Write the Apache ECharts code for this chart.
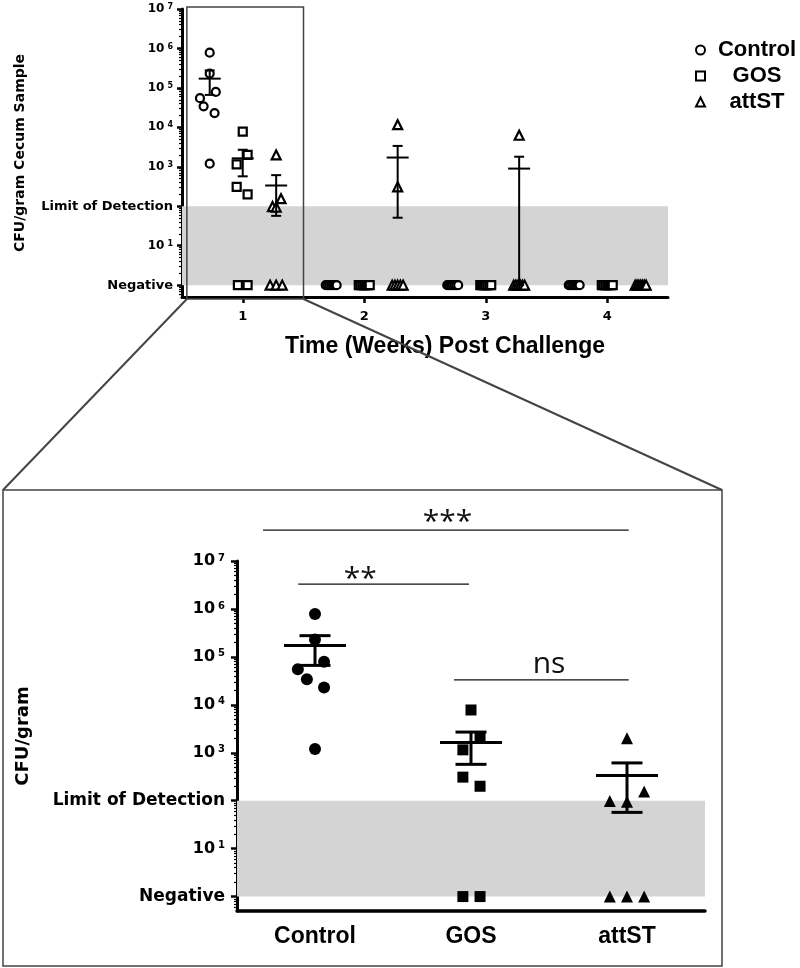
<!DOCTYPE html>
<html><head><meta charset="utf-8">
<script src="https://cdn.jsdelivr.net/npm/echarts@6/dist/echarts.min.js"></script>
<style>html,body{margin:0;padding:0;background:#fff}#c{width:800px;height:968px}</style>
</head><body><div id="c"></div>
<script>
// ---------------- data ----------------
const weeks = [1, 2, 3, 4];
const groups = ['Control', 'GOS', 'attST'];
// CFU per gram of cecum sample, one value per bird, per week; 0 = culture negative
const controlCFU = [
  [780000, 230000, 79000, 55000, 34000, 23000, 1200],
  [0, 0, 0, 0, 0, 0, 0],
  [0, 0, 0, 0, 0, 0, 0],
  [0, 0, 0, 0, 0, 0, 0]
];
const gosCFU = [
  [7800, 2000, 1150, 310, 200, 0, 0],
  [0, 0, 0, 0, 0, 0, 0],
  [0, 0, 0, 0, 0, 0, 0],
  [0, 0, 0, 0, 0, 0, 0]
];
const attSTCFU = [
  [2000, 155, 98, 95, 0, 0, 0],
  [11700, 310, 0, 0, 0, 0, 0],
  [6300, 0, 0, 0, 0, 0, 0],
  [0, 0, 0, 0, 0, 0, 0]
];
const yTickValues = [1, 10, 100, 1e3, 1e4, 1e5, 1e6, 1e7];
const NEGATIVE = 1;            // level at which negative birds are plotted
const LIMIT_OF_DETECTION = 100;
const sigLabels = ['***', '**', 'ns'];

// ---------------- layout ----------------
const cfu = [controlCFU, gosCFU, attSTCFU];
const groupOffset = [-0.272, 0, 0.275];
const jitterTopW1 = [[0, 0, 0.05, -0.08, -0.05, 0.04, 0], [0, 0.04, -0.05, -0.05, 0.04, -0.04, 0.04], [0, 0.04, -0.03, 0, -0.05, 0, 0.05]];
const jitterBottom = [[0, 0, 0.058, -0.11, -0.052, 0.058, 0], [0, 0.058, -0.052, -0.052, 0.058, -0.052, 0.058], [0, 0.11, -0.11, 0, -0.11, 0, 0.11]];
const negSpread = 0.045;
const symbols = ['circle', 'rect', 'triangle'];
const symSizeTop = [8, 8, 9];
const symSizeBot = [12, 11, 12];
const FONT_AX = 'DejaVu Sans';
const FONT_TXT = 'Liberation Sans';

function meanSem(vals) {
  const n = vals.length;
  const m = vals.reduce((a, b) => a + b, 0) / n;
  const sd = Math.sqrt(vals.reduce((a, b) => a + (b - m) * (b - m), 0) / (n - 1));
  return [m, sd / Math.sqrt(n)];
}

function topPoints(g) {
  const out = [];
  weeks.forEach((w, wi) => {
    const vals = cfu[g][wi];
    const negIdx = [];
    vals.forEach((v, i) => { if (v <= 0) negIdx.push(i); });
    vals.forEach((v, i) => {
      let j;
      if (wi === 0) j = jitterTopW1[g][i];
      else if (v > 0) j = 0;
      else {
        const k = negIdx.indexOf(i), n = negIdx.length;
        j = n > 1 ? -negSpread + 2 * negSpread * k / (n - 1) : 0;
      }
      out.push([w + groupOffset[g] + j, v > 0 ? v : NEGATIVE]);
    });
  });
  return out;
}
function bottomPoints(g) {
  return cfu[g][0].map((v, i) => [g + 1 + jitterBottom[g][i], v > 0 ? v : NEGATIVE]);
}
function topErr(g) {
  const out = [];
  weeks.forEach((w, wi) => {
    const [m, s] = meanSem(cfu[g][wi]);
    if (m > 0) out.push([w + groupOffset[g], m, Math.max(m - s, NEGATIVE), m + s]);
  });
  return out;
}
function bottomErr() {
  return groups.map((n, g) => { const [m, s] = meanSem(cfu[g][0]); return [g + 1, m, Math.max(m - s, NEGATIVE), m + s]; });
}
function errRender(half, cap, lw) {
  return function (params, api) {
    const x = api.value(0);
    const pm = api.coord([x, api.value(1)]);
    const plo = api.coord([x, api.value(2)]);
    const phi = api.coord([x, api.value(3)]);
    const st = { stroke: '#000', lineWidth: lw };
    return { type: 'group', children: [
      { type: 'line', shape: { x1: pm[0] - half, y1: pm[1], x2: pm[0] + half, y2: pm[1] }, style: st },
      { type: 'line', shape: { x1: pm[0], y1: phi[1], x2: pm[0], y2: plo[1] }, style: st },
      { type: 'line', shape: { x1: pm[0] - cap, y1: phi[1], x2: pm[0] + cap, y2: phi[1] }, style: st },
      { type: 'line', shape: { x1: pm[0] - cap, y1: plo[1], x2: pm[0] + cap, y2: plo[1] }, style: st }
    ] };
  };
}
function yFormatter(v) {
  const e = Math.round(Math.log10(v));
  if (v === NEGATIVE) return 'Negative';
  if (v === LIMIT_OF_DETECTION) return 'Limit of Detection';
  return '{b|10}{s|' + e + '}';
}
function yAxisCfg(gridIndex, big) {
  const fs = big ? 16 : 12, fsw = big ? 17 : 13, fss = big ? 10 : 8;
  return {
    type: 'log', gridIndex, min: 0.5, max: 1e7,
    name: big ? 'CFU/gram' : 'CFU/gram Cecum Sample',
    nameLocation: 'middle', nameGap: big ? 205 : 155,
    nameTextStyle: { fontFamily: FONT_AX, fontWeight: 'bold', fontSize: big ? 18 : 14, color: '#000' },
    axisLine: { show: true, lineStyle: { color: '#000', width: 3 } },
    axisTick: { show: true, customValues: yTickValues, length: big ? 6 : 5, lineStyle: { color: '#000', width: 2.5 } },
    minorTick: { show: true, splitNumber: 9, length: 3, lineStyle: { color: '#000', width: 1.2 } },
    splitLine: { show: false }, minorSplitLine: { show: false },
    axisLabel: {
      customValues: yTickValues, formatter: yFormatter, margin: big ? 12 : 9,
      fontFamily: FONT_AX, fontWeight: 'bold', fontSize: fsw, color: '#000',
      rich: {
        b: { fontFamily: FONT_AX, fontWeight: 'bold', fontSize: fs, color: '#000' },
        s: { fontFamily: FONT_AX, fontWeight: 'bold', fontSize: fss, color: '#000', verticalAlign: 'top', lineHeight: big ? 8 : 6, padding: [0, 0, 0, 3] }
      }
    }
  };
}

const GT = { left: 182, top: 9, width: 486, height: 288 };
const GB = { left: 237, top: 561, width: 468, height: 350 };

const series = [];
// shaded band between "Negative" and "Limit of Detection"
[0, 1].forEach(ax => series.push({
  type: 'scatter', xAxisIndex: ax, yAxisIndex: ax, data: [], z: 1, silent: true,
  markArea: { silent: true, itemStyle: { color: '#d4d4d4' }, data: [[{ yAxis: NEGATIVE }, { yAxis: LIMIT_OF_DETECTION }]] }
}));
groups.forEach((name, g) => {
  series.push({
    name, type: 'scatter', xAxisIndex: 0, yAxisIndex: 0, z: 3,
    symbol: symbols[g], symbolSize: symSizeTop[g],
    itemStyle: { color: '#fff', borderColor: '#000', borderWidth: 2.2, opacity: 1 },
    data: topPoints(g)
  });
  series.push({
    name: name + ' mean ± SEM', type: 'custom', xAxisIndex: 0, yAxisIndex: 0, z: 4,
    renderItem: errRender(11, 5, 2), encode: { x: 0, y: [1, 2, 3] }, data: topErr(g)
  });
  series.push({
    name: name + ' (week 1)', type: 'scatter', xAxisIndex: 1, yAxisIndex: 1, z: 3,
    symbol: symbols[g], symbolSize: symSizeBot[g],
    itemStyle: { color: '#000', opacity: 1 },
    data: bottomPoints(g)
  });
});
series.push({
  name: 'week 1 mean ± SEM', type: 'custom', xAxisIndex: 1, yAxisIndex: 1, z: 4,
  renderItem: errRender(31, 15.5, 3), encode: { x: 0, y: [1, 2, 3] }, data: bottomErr()
});

const chart = echarts.init(document.getElementById('c'), null, { renderer: 'canvas' });
chart.setOption({
  animation: false,
  backgroundColor: '#fff',
  grid: [GT, GB],
  legend: {
    data: groups, orient: 'vertical', left: 690, top: 33,
    itemWidth: 9, itemHeight: 9, itemGap: 2, selectedMode: false,
    itemStyle: { color: '#fff', borderColor: '#000', borderWidth: 2 },
    formatter: n => '{t|' + n + '}',
    textStyle: {
      color: '#000', fontFamily: FONT_TXT, fontWeight: 'bold', fontSize: 22, lineHeight: 24,
      rich: { t: { width: 84, align: 'center', fontFamily: FONT_TXT, fontWeight: 'bold', fontSize: 22, color: '#000', padding: [0, 0, 0, 5] } }
    }
  },
  xAxis: [
    {
      type: 'value', gridIndex: 0, min: 0.5, max: 4.5,
      name: 'Time (Weeks) Post Challenge', nameLocation: 'middle', nameGap: 38,
      nameTextStyle: { fontFamily: FONT_TXT, fontWeight: 'bold', fontSize: 23, color: '#000', padding: [0, 0, 0, 40] },
      axisLine: { show: true, onZero: false, lineStyle: { color: '#000', width: 3 } },
      axisTick: { show: true, customValues: weeks, length: 6, lineStyle: { color: '#000', width: 2.5 } },
      axisLabel: { customValues: weeks, margin: 13, fontFamily: FONT_AX, fontWeight: 'bold', fontSize: 13, color: '#000' },
      splitLine: { show: false }
    },
    {
      type: 'value', gridIndex: 1, min: 0.5, max: 3.5,
      axisLine: { show: true, onZero: false, lineStyle: { color: '#000', width: 3.5 } },
      axisTick: { show: false },
      axisLabel: { customValues: [1, 2, 3], formatter: v => groups[Math.round(v) - 1], margin: 14,
        fontFamily: FONT_TXT, fontWeight: 'bold', fontSize: 23, color: '#000' },
      splitLine: { show: false }
    }
  ],
  yAxis: [yAxisCfg(0, false), yAxisCfg(1, true)],
  series
});

// ---------------- decorations (zoom frame, significance bars) ----------------
const X0 = v => chart.convertToPixel({ xAxisIndex: 0 }, v);
const X1 = v => chart.convertToPixel({ xAxisIndex: 1 }, v);
const Y1 = v => chart.convertToPixel({ yAxisIndex: 1 }, v);
const rx1 = X0(0.54), rx2 = X0(1.5);
const ry1 = GT.top - 2, ry2 = GT.top + GT.height + 2;
const fx1 = 3, fx2 = 722, fy1 = 490, fy2 = 966;
const frameStyle = { stroke: '#444', lineWidth: 1.5, fill: null };
const sigBars = [
  { x1: 0.667, x2: 3.011, y: 4.4e7, tx: 1.85, label: sigLabels[0], dy: -8 },
  { x1: 0.893, x2: 1.987, y: 3.3e6, tx: 1.29, label: sigLabels[1], dy: -5 },
  { x1: 1.891, x2: 3.011, y: 3.3e4, tx: 2.5, label: sigLabels[2], dy: -16 }
];
const gfx = [
  { type: 'rect', shape: { x: rx1, y: ry1, width: rx2 - rx1, height: ry2 - ry1 }, style: frameStyle, z: 10 },
  { type: 'rect', shape: { x: fx1, y: fy1, width: fx2 - fx1, height: fy2 - fy1 }, style: frameStyle, z: 10 },
  { type: 'line', shape: { x1: rx1, y1: ry2, x2: fx1, y2: fy1 }, style: { stroke: '#444', lineWidth: 2 }, z: 10 },
  { type: 'line', shape: { x1: rx2, y1: ry2, x2: fx2, y2: fy1 }, style: { stroke: '#444', lineWidth: 2 }, z: 10 }
];
sigBars.forEach(b => {
  const y = Y1(b.y);
  gfx.push({ type: 'line', shape: { x1: X1(b.x1), y1: y, x2: X1(b.x2), y2: y }, style: { stroke: '#111', lineWidth: 1.3 }, z: 10 });
  gfx.push({ type: 'text', x: X1(b.tx), y: y + b.dy, z: 10,
    style: { text: b.label, fontFamily: 'Open Sans', fontSize: 30, fill: '#111', align: 'center', verticalAlign: 'middle' } });
});
chart.setOption({ graphic: gfx });
</script></body></html>
